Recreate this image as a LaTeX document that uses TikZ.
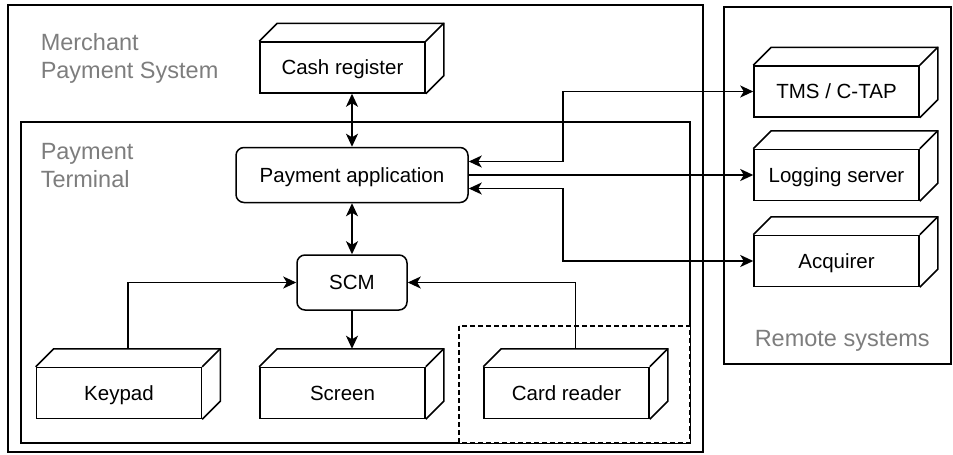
\documentclass[tikz,border=0pt]{standalone}
\usepackage{fontspec}
\setmainfont{Liberation Sans}
\usetikzlibrary{arrows.meta}

\definecolor{labelgray}{RGB}{125,125,125}

\begin{document}
\begin{tikzpicture}[x=1pt, y=-1pt,
  line width=1.5pt,
  >={Stealth[length=13pt,width=12pt,inset=3.5pt]},
  grouplabel/.style={anchor=north west, inner sep=0pt, align=left,
    text=labelgray, font=\fontsize{23.5}{28}\selectfont},
  boxtext/.style={font=\fontsize{20.5}{24}\selectfont,
    text height=18.5pt, text depth=4.3pt},
  appbox/.style={draw, rounded corners=8pt, inner sep=0pt,
    minimum height=55pt, boxtext},
  cube/.style={draw, minimum width=165pt, minimum height=51pt, inner sep=0pt,
    boxtext,
    append after command={\pgfextra{
      \draw (\tikzlastnode.north west) -- ++(18pt,18pt)
        -- ([shift={(18pt,18pt)}]\tikzlastnode.north east)
        -- ([shift={(18pt,18pt)}]\tikzlastnode.south east)
        -- (\tikzlastnode.south east);
      \draw (\tikzlastnode.north east) -- ++(18pt,18pt);}}},
  groupframe/.style={draw},
  optframe/.style={draw, fill=white, line width=1.2pt, dash pattern=on 5pt off 3pt},
]
\useasboundingbox (0,0) rectangle (953,455);

% containers
\draw[groupframe] (8,5) rectangle (703,452);
\draw[groupframe] (21,122) rectangle (690,443);
\draw[groupframe] (724,7) rectangle (951,364);
% card-reader zone, painted over the terminal frame
\draw[optframe] (459,326) rectangle (690,443);

\node[grouplabel] (mps) at (40,33) {Merchant\\Payment System};
\node[grouplabel] (pt) at (40,143) {Payment\\Terminal};
\node[grouplabel] (rs) at (754,330) {Remote systems};

% devices
\node[cube] (cash) at (342.5,67.5) {Cash register};
\node[cube] (tms) at (836.5,91.5) {TMS / C-TAP};
\node[cube] (log) at (836.5,175) {Logging server};
\node[cube] (acq) at (836.5,261) {Acquirer};
\node[cube] (keypad) at (119,393) {Keypad};
\node[cube] (screen) at (342.5,393) {Screen};
\node[cube] (card) at (566.5,393) {Card reader};

% software components
\node[appbox, minimum width=232pt] (papp) at (352,175) {Payment application};
\node[appbox, minimum width=110pt] (scm) at (352,282.5) {SCM};

% top centres of the device blocks
\coordinate (screen-top) at ([shift={(9pt,18pt)}]screen.north);
\coordinate (keypad-top) at ([shift={(9pt,18pt)}]keypad.north);
\coordinate (card-top) at ([shift={(9pt,18pt)}]card.north);

% connections
\draw[<->] (papp.north) -- (papp.north |- cash.south);
\draw[<->] (papp.south) -- (scm.north);
\draw[->] (scm.south) -- (scm.south |- screen-top);
\draw[->] (keypad-top) |- (scm.west);
\draw[->] (card-top) |- (scm.east);
\draw[<->] ([yshift=13.5pt]papp.east) -- ++(94,0) |- (tms.west);
\draw[->] (papp.east) -- (log.west);
\draw[<->] ([yshift=-13.5pt]papp.east) -- ++(94,0) |- (acq.west);
\end{tikzpicture}
\end{document}
